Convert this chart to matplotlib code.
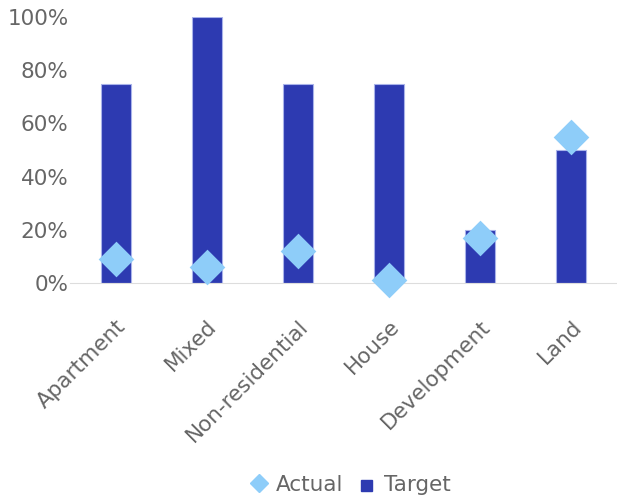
import matplotlib.pyplot as plt
from matplotlib.ticker import PercentFormatter
from matplotlib.lines import Line2D
from matplotlib.patches import Patch

categories = ['Apartment', 'Mixed', 'Non-residential', 'House', 'Development', 'Land']
target = [75, 100, 75, 75, 20, 50]
actual = [9, 6, 12, 1, 17, 55]

bar_color = '#2d3ab1'
dot_color = '#8ecdf9'
text_color = '#666666'

fig = plt.figure(figsize=(6.17, 4.99), dpi=100)
ax = fig.add_axes([70 / 617, 1 - 283 / 499, 547 / 617, 266 / 499])

x = range(len(categories))
ax.bar(x, target, width=0.33, color=bar_color, edgecolor='#a9b3ea', linewidth=0.8, zorder=2)
ax.scatter(x, actual, marker='D', s=330, color=dot_color, zorder=3, clip_on=False, linewidths=0)

ax.set_xlim(-0.5, len(categories) - 0.5)
ax.set_ylim(0, 100)
ax.set_yticks([0, 20, 40, 60, 80, 100])
ax.yaxis.set_major_formatter(PercentFormatter(decimals=0))
ax.set_xticks(list(x))
ax.set_xticklabels(categories, rotation=45, ha='right', rotation_mode='anchor')

for s in ['top', 'right', 'left']:
    ax.spines[s].set_visible(False)
ax.spines['bottom'].set_color('#dddddd')
ax.tick_params(axis='both', length=0, labelsize=15.5, labelcolor=text_color)
ax.tick_params(axis='y', pad=1)
ax.tick_params(axis='x', pad=24)

handles = [
    Line2D([], [], marker='D', linestyle='none', color=dot_color, markersize=9),
    Patch(color=bar_color),
]
leg = fig.legend(handles, ['Actual', 'Target'], loc='center', bbox_to_anchor=(0.57, 1 - 485 / 499),
                 ncol=2, frameon=False, fontsize=15.5, handlelength=0.6, handletextpad=0.5,
                 columnspacing=0.8, labelcolor=text_color)
leg.legend_handles[1].set_height(8)
leg.legend_handles[1].set_width(8)

fig.savefig('out.png', dpi=100)
